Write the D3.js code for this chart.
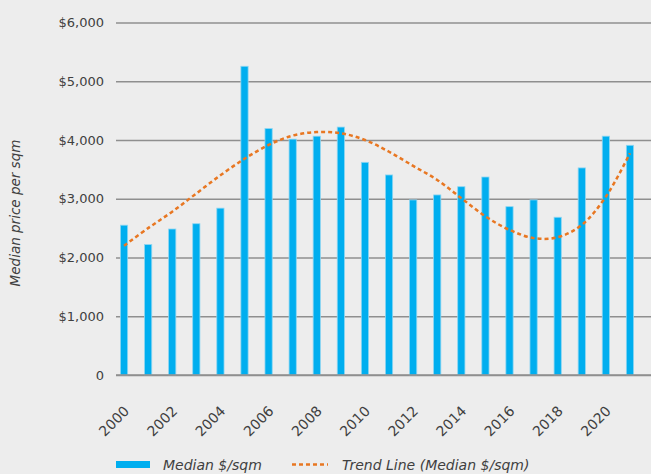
<!DOCTYPE html>
<html><head><meta charset="utf-8">
<script src="https://cdn.jsdelivr.net/npm/d3@7"></script>
<style>
html,body{margin:0;padding:0;background:#ededed;}
svg{display:block;font-family:"DejaVu Sans",sans-serif;}
</style></head>
<body>
<svg id="c" width="651" height="474"></svg>
<script>
const years = [2000,2001,2002,2003,2004,2005,2006,2007,2008,2009,2010,2011,2012,2013,2014,2015,2016,2017,2018,2019,2020,2021];
const medianValues = [2550,2220,2485,2575,2840,5255,4195,4015,4065,4220,3620,3405,2980,3065,3205,3370,2865,2980,2685,3525,4065,3910];
const trendValues = [2200,2500,2780,3090,3400,3680,3915,4075,4135,4115,4000,3800,3560,3320,3010,2700,2470,2330,2345,2555,3035,3775];
const yTicks = [0,1000,2000,3000,4000,5000,6000];
const xTickYears = [2000,2002,2004,2006,2008,2010,2012,2014,2016,2018,2020];
const seriesLabels = ["Median $/sqm","Trend Line (Median $/sqm)"];
const yTitle = "Median price per sqm";

const svg = d3.select("#c");
svg.append("rect").attr("width",651).attr("height",474).attr("fill","#ededed");

const x = d3.scaleBand().domain(years).range([112,642]).paddingInner(0.7).paddingOuter(0.35);
const y = d3.scaleLinear().domain([0,6000]).range([375,22.5]);
const cx = d => x(d) + x.bandwidth()/2;

// gridlines + y labels
const yAxis = d3.axisLeft(y).tickValues(yTicks).tickSize(-(651-116)).tickPadding(12)
  .tickFormat(d => d===0 ? "0" : "$" + d3.format(",")(d));
const gy = svg.append("g").attr("transform","translate(116,0)").call(yAxis);
gy.select(".domain").remove();
gy.selectAll(".tick line").attr("stroke","#8f8f8f").attr("stroke-width",1.5);
gy.selectAll(".tick text").attr("fill","#404040").attr("font-size",13).attr("font-family","DejaVu Sans");

// bars
svg.append("g").selectAll("rect").data(years).join("rect")
  .attr("x", d => x(d))
  .attr("y", (d,i) => y(medianValues[i]))
  .attr("width", x.bandwidth())
  .attr("height", (d,i) => y(0) - y(medianValues[i]))
  .attr("fill","#00aeef")
  .attr("stroke","#8ed6f2").attr("stroke-width",0.8);

// baseline
svg.append("line").attr("x1",116).attr("x2",651).attr("y1",y(0)).attr("y2",y(0))
  .attr("stroke","#8f8f8f").attr("stroke-width",1.5);

// trend
const line = d3.line().x(d => cx(d[0])).y(d => y(d[1])).curve(d3.curveCatmullRom);
svg.append("path").datum(years.map((yr,i)=>[yr,trendValues[i]]))
  .attr("d",line).attr("fill","none").attr("stroke","#e87722")
  .attr("stroke-width",2.5).attr("stroke-dasharray","4,3");

// x labels
const xAxis = d3.axisBottom(x).tickValues(xTickYears).tickSize(0).tickPadding(0);
const gx = svg.append("g").attr("transform","translate(0,"+ (y(0)) +")").call(xAxis);
gx.select(".domain").remove();
gx.selectAll(".tick text")
  .attr("fill","#404040").attr("font-size",14).attr("font-family","DejaVu Sans")
  .attr("text-anchor","end").attr("dy",0).attr("y",0)
  .attr("transform","translate(6,37) rotate(-45)");

// y title
svg.append("text").attr("transform","translate(20,213) rotate(-90)")
  .attr("text-anchor","middle").attr("font-style","italic").attr("font-size",13.5)
  .attr("fill","#404040").text(yTitle);

// legend
const lg = svg.append("g");
lg.append("rect").attr("x",116).attr("y",461).attr("width",34).attr("height",7).attr("fill","#00aeef");
lg.append("text").attr("x",163).attr("y",470).attr("font-style","italic").attr("font-size",14)
  .attr("fill","#404040").text(seriesLabels[0]);
lg.append("line").attr("x1",292).attr("x2",328).attr("y1",464.5).attr("y2",464.5)
  .attr("stroke","#e87722").attr("stroke-width",2.5).attr("stroke-dasharray","4,3");
lg.append("text").attr("x",342).attr("y",470).attr("font-style","italic").attr("font-size",14)
  .attr("fill","#404040").text(seriesLabels[1]);
</script>
</body></html>
